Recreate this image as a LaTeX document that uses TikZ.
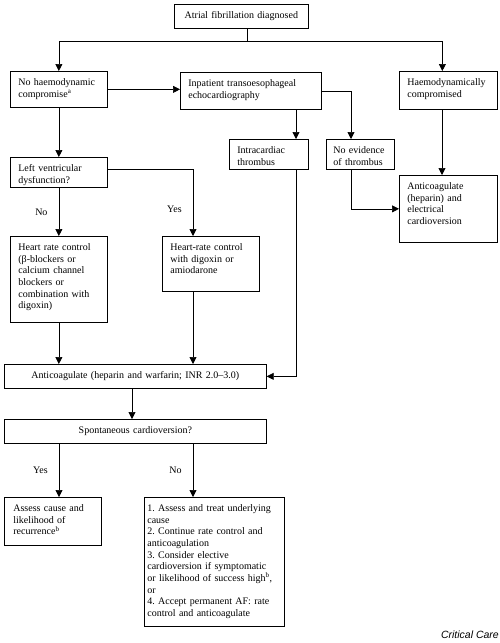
\documentclass[tikz,border=0pt]{standalone}
\usepackage{fontspec}
\setmainfont{Liberation Serif}
\newfontfamily\journalfont{Liberation Sans}
\usetikzlibrary{arrows.meta}

\begin{document}
\frenchspacing
\begin{tikzpicture}[x=1pt, y=-1pt,
  box/.style={draw, line width=0.7pt, anchor=north west, inner sep=0pt, align=left, text height=14pt, font=\fontsize{10}{11.7}\selectfont},
  link/.style={line width=0.7pt},
  arr/.style={line width=0.7pt, -{Triangle[length=7pt,width=7pt]}},
  lab/.style={inner sep=0pt, left=11pt, font=\fontsize{10}{11.7}\selectfont}]
  \useasboundingbox (0,0) rectangle (500,643);
  \node[box, minimum width=134pt, text width=124pt, align=center, text depth=10pt] (diag) at (174,4) {Atrial fibrillation diagnosed};
  \node[box, minimum width=97pt, text width=81pt, text depth=22pt] (nohaemo) at (10,71) {No haemodynamic\\compromise\textsuperscript{a}};
  \node[box, minimum width=141pt, text width=125pt, text depth=23pt] (tee) at (180,72) {Inpatient transoesophageal\\echocardiography};
  \node[box, minimum width=98pt, text width=82pt, text depth=24pt] (haemo) at (399,71) {Haemodynamically\\compromised};
  \node[box, minimum width=79pt, text width=63pt, text depth=16pt] (intra) at (229,139) {Intracardiac\\thrombus};
  \node[box, minimum width=68pt, text width=54pt, text depth=16pt] (noevid) at (326,139) {No evidence\\of thrombus};
  \node[box, minimum width=97pt, text width=81pt, text depth=16pt] (lvd) at (10,157) {Left ventricular\\dysfunction?};
  \node[box, minimum width=98pt, text width=82pt, text depth=53pt] (anticoagE) at (399,175) {Anticoagulate\\(heparin) and\\electrical\\cardioversion};
  \node[box, minimum width=97pt, text width=81pt, text depth=72pt] (hrc) at (10,236) {Heart rate control\\(β-blockers or\\calcium channel\\blockers or\\combination with\\digoxin)};
  \node[box, minimum width=97pt, text width=81pt, text depth=41pt] (digox) at (162,236) {Heart-rate control\\with digoxin or\\amiodarone};
  \node[box, minimum width=262pt, text width=250pt, align=center, text depth=10pt] (anticoagW) at (4,364) {Anticoagulate (heparin and warfarin; INR 2.0–3.0)};
  \node[box, minimum width=262pt, text width=250pt, align=center, text depth=10pt] (spont) at (4,419) {Spontaneous cardioversion?};
  \node[box, minimum width=97pt, text width=79pt, text depth=34pt] (assess) at (4,497) {Assess cause and\\likelihood of\\recurrence\textsuperscript{b}};
  \node[box, minimum width=140pt, text width=134pt, text depth=115pt] (todo) at (144,497) {1. Assess and treat underlying\\cause\\2. Continue rate control and\\anticoagulation\\3. Consider elective\\cardioversion if symptomatic\\or likelihood of success high\textsuperscript{b},\\or\\4. Accept permanent AF: rate\\control and anticoagulate};
  \node[anchor=base east, inner sep=0pt, font=\journalfont\itshape\fontsize{10.5}{12}\selectfont] (journal) at (499,638) {Critical Care};

  \coordinate (split) at (247,41);
  \draw[link] (diag.south -| split) -- (split);
  \draw[arr] (split) -| (nohaemo.north);
  \draw[arr] (split) -| ([xshift=-6pt]haemo.north);
  \draw[arr] (nohaemo.east) -- (nohaemo.east -| tee.west);
  \draw[arr] (tee.south -| 296,0) -- (intra.north -| 296,0);
  \draw[arr] (tee.east) -| (noevid.north -| 351,0);
  \draw[arr] (noevid.south -| 351,0) |- (anticoagE.west);
  \draw[arr] (haemo.south -| 442,0) -- (anticoagE.north -| 442,0);
  \draw[arr] (intra.south -| 296,0) |- (anticoagW.east);
  \draw[arr] (nohaemo.south) -- (lvd.north);
  \draw[arr] (lvd.south) -- node[lab] {No} (hrc.north);
  \draw[arr] ([yshift=3pt]lvd.east) -| node[lab, pos=0.8] {Yes} (digox.north -| 193,0);
  \draw[arr] (hrc.south) -- (hrc.south |- anticoagW.north);
  \draw[arr] (digox.south -| 193,0) -- (anticoagW.north -| 193,0);
  \draw[arr] (anticoagW.south -| 132,0) -- (spont.north -| 132,0);
  \draw[arr] (spont.south -| 59,0) -- node[lab] {Yes} (assess.north -| 59,0);
  \draw[arr] (spont.south -| 193,0) -- node[lab] {No} (todo.north -| 193,0);
\end{tikzpicture}
\end{document}
